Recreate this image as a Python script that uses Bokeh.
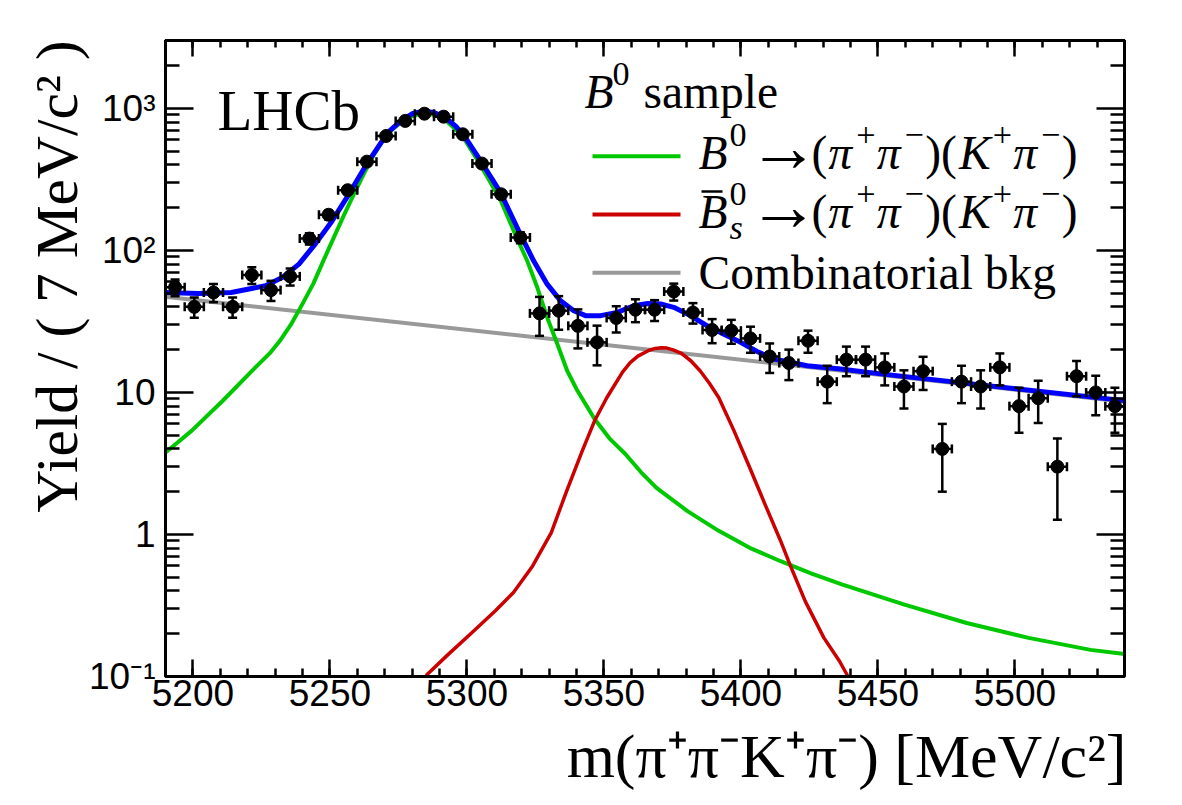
import numpy as np
from bokeh.plotting import figure
from bokeh.models import Range1d, FixedTicker, LinearAxis, LogAxis, Label, CustomJSTickFormatter
from bokeh.embed import file_html
from bokeh.resources import INLINE

# ---------------------------------------------------------------------------
# m(pi+ pi- K+ pi-) spectrum of the B0 sample, 7 MeV/c^2 bins over 5190-5540
# ---------------------------------------------------------------------------
bin_lo = 5190.0
bin_width = 7.0
n_bins = 50

yields = [55, 40, 50.5, 40, 67, 52.5, 65.5, 121, 178, 265,
          421, 638, 815, 916, 873, 656, 408, 248, 123, 36,
          37.6, 29.4, 22.5, 33.4, 38.2, 38.2, 51.3, 36.5, 27.5, 27.2,
          24, 17.9, 16.1, 23.1, 11.9, 17, 17, 15, 11, 14.1,
          4, 11.9, 11, 15, 8, 9.1, 3, 13, 10, 8]

yield_err = [7.4, 6.5, 7.4, 6.5, 9, 8.5, 9, 11, 13, 16,
             21, 25, 29, 30, 30, 26, 20, 16, 11, 11,
             10, 9, 7, 7, 7, 6.4, 7, 6, 5.3, 5.2,
             5, 4.2, 3.9, 4.1, 3.5, 4, 4, 3.8, 3.3, 3.7,
             2, 3.5, 3.3, 3.8, 2.8, 3, 1.73, 3.6, 3.1, 2.8]

# total fit
total_mass = [5190, 5202, 5214, 5226.5, 5232.6, 5238.7, 5244.7, 5250.8, 5256.9, 5263.0,
              5269.1, 5272, 5276, 5280, 5284, 5288, 5292, 5296, 5300, 5304.9,
              5312.3, 5318.9, 5324.4, 5329.3, 5334.2, 5339.0, 5343.3, 5348.8, 5354.9, 5360.9,
              5366, 5370.7, 5375.5, 5381.6, 5387.7, 5393.8, 5399.9, 5405.9, 5412.0, 5424.2,
              5436.4, 5451.0, 5540]
total_fit = [50.5, 49.7, 50.5, 56.3, 64.4, 80, 111, 161, 248, 393,
             589, 700, 820, 915, 955, 935, 865, 745, 600, 430,
             255, 137, 84, 57.8, 44.1, 37.6, 34.7, 34.7, 36.6, 40.7,
             42.2, 41.9, 39.7, 34.7, 29.4, 25.7, 22.5, 19.4, 17.2, 15.4,
             14.6, 13.5, 8.75]

# B0 -> (pi+ pi-)(K+ pi-) signal component
b0_mass = [5190, 5199.5, 5210.9, 5222.2, 5228, 5232, 5236, 5240, 5244, 5247.8,
           5251.4, 5255.1, 5258.8, 5262.4, 5266.0, 5269.7, 5273.3, 5277.2, 5280.5, 5284,
           5288, 5292, 5298.3, 5304.9, 5312.3, 5317.1, 5322.0, 5325.7, 5329.3, 5333.0,
           5336.6, 5340.3, 5346.6, 5352, 5357.9, 5363.5, 5369.2, 5380.5, 5391.9, 5403.2,
           5414.5, 5425.8, 5437.1, 5459.7, 5482.4, 5505.0, 5527.6, 5540]
b0_fit = [3.77, 5.36, 8.73, 14.6, 18.8, 23.4, 30.5, 42, 58.5, 86,
          123, 176, 250, 346, 470, 608, 725, 830, 890, 922,
          902, 833, 640, 400, 225, 137, 84.4, 54.7, 33.7, 21.9,
          14.2, 10.3, 6.49, 4.75, 3.67, 2.75, 2.13, 1.46, 1.06, 0.805,
          0.648, 0.53, 0.443, 0.321, 0.238, 0.187, 0.154, 0.144]

# anti-Bs0 -> (pi+ pi-)(K+ pi-) component
bs_mass = [5285.1, 5293, 5301.4, 5310.4, 5317, 5324.0, 5330.8, 5336.4, 5342.1, 5346.6,
           5351.1, 5356.8, 5359.6, 5362.4, 5366.5, 5368.7, 5371.0, 5373.0, 5375.0, 5378.3,
           5381.7, 5385.1, 5388.5, 5391.9, 5397.5, 5403.2, 5408.8, 5414.5, 5417.9, 5423.5,
           5430.3, 5436.0, 5438.9]
bs_fit = [0.1016, 0.142, 0.200, 0.290, 0.39, 0.60, 1.03, 2.02, 3.87, 6.31,
          9.2, 13.9, 16.2, 18.0, 19.8, 20.4, 20.6, 20.5, 20.0, 18.8,
          16.7, 14.2, 11.6, 9.2, 5.36, 2.96, 1.63, 0.90, 0.614, 0.338,
          0.187, 0.128, 0.1016]

# combinatorial background (exponential)
comb_mass = [5190, 5540]
comb_fit = [47.1, 8.6]

x_major = [5200, 5250, 5300, 5350, 5400, 5450, 5500]
y_major = [0.1, 1, 10, 100, 1000]
y_major_labels = ["10\u207b\u00b9", "1", "10", "10\u00b2", "10\u00b3"]

x_title = "m(\u03c0\u207a\u03c0\u207bK\u207a\u03c0\u207b) [MeV/c\u00b2]"
y_title = "Yield / ( 7 MeV/c\u00b2 )"

GREEN = "#00c800"
RED = "#cc0000"
BLUE = "#0000ff"
GREY = "#999999"

# ---------------------------------------------------------------------------
X_LO, X_HI = 5190.0, 5540.0
Y_LO, Y_HI = 0.1, 3000.0
W, H = 1182, 805
FRAME_L, FRAME_T, FRAME_R, FRAME_B = 165, 40, 1124, 676
FRAME_W = FRAME_R - FRAME_L
FRAME_H = FRAME_B - FRAME_T
SERIF = "Liberation Serif"
SANS = "Liberation Sans"
NBSP = "\u00a0"

p = figure(width=W, height=H, x_range=Range1d(X_LO, X_HI), y_range=Range1d(Y_LO, Y_HI),
           y_axis_type="log", x_axis_location=None, y_axis_location=None,
           output_backend="svg", toolbar_location=None,
           min_border_left=FRAME_L, min_border_right=W - FRAME_R,
           min_border_top=FRAME_T, min_border_bottom=H - FRAME_B)
p.grid.visible = False
p.background_fill_color = "white"
p.border_fill_color = "white"
p.outline_line_color = "black"
p.outline_line_width = 3

x_ticker = FixedTicker(ticks=x_major, minor_ticks=list(range(5190, 5541, 10)))
y_minor = [m * 10.0 ** e for e in range(-1, 4) for m in range(2, 10) if m * 10.0 ** e <= Y_HI]
y_ticker = FixedTicker(ticks=y_major, minor_ticks=y_minor)
blank = CustomJSTickFormatter(code="return '';")


def make_axis(cls, ticker, major_in, minor_in, show_labels=False):
    ax = cls(ticker=ticker)
    ax.axis_line_width = 3
    ax.axis_line_color = "black"
    ax.major_tick_in = major_in
    ax.major_tick_out = 0
    ax.minor_tick_in = minor_in
    ax.minor_tick_out = 0
    ax.major_tick_line_width = 2.5
    ax.minor_tick_line_width = 2.5
    ax.major_tick_line_color = "black"
    ax.minor_tick_line_color = "black"
    if show_labels:
        ax.major_label_text_font = SANS
        ax.major_label_text_font_size = "37px"
        ax.major_label_text_color = "black"
        ax.axis_label_text_font = SERIF
        ax.axis_label_text_font_style = "normal"
        ax.axis_label_text_color = "black"
    else:
        ax.formatter = blank
        ax.major_label_standoff = 0
    return ax


# axis titles sit toward the far end of each axis: leading no-break spaces push the
# centred title along the axis
bottom_axis = make_axis(LinearAxis, x_ticker, 17, 8, show_labels=True)
bottom_axis.major_label_standoff = 3
bottom_axis.axis_label = NBSP * 26 + x_title
bottom_axis.axis_label_text_font_size = "62px"
bottom_axis.axis_label_standoff = 13

left_axis = make_axis(LogAxis, y_ticker, 28, 14, show_labels=True)
left_axis.major_label_standoff = 10
left_axis.major_label_overrides = dict(zip(y_major, y_major_labels))
left_axis.axis_label = NBSP * 11 + y_title
left_axis.axis_label_text_font_size = "59.5px"
left_axis.axis_label_standoff = -4

p.add_layout(bottom_axis, "below")
p.add_layout(make_axis(LinearAxis, x_ticker, 16, 7), "above")
p.add_layout(left_axis, "left")
p.add_layout(make_axis(LogAxis, y_ticker, 28, 14), "right")

# ---------------------------------------------------------------------------
# fit curves
p.line(comb_mass, comb_fit, line_color=GREY, line_width=4)
p.line(b0_mass, b0_fit, line_color=GREEN, line_width=4, line_join="round")
p.line(bs_mass, bs_fit, line_color=RED, line_width=3.5, line_join="round")
p.line(total_mass, total_fit, line_color=BLUE, line_width=5, line_join="round")

# data points with error bars
centers = bin_lo + bin_width * (np.arange(n_bins) + 0.5)
y = np.array(yields, dtype=float)
e = np.array(yield_err, dtype=float)
lo, hi = y - e, y + e
half = bin_width / 2.0

p.segment(x0=centers, y0=lo, x1=centers, y1=hi, line_color="black", line_width=2.5)
p.segment(x0=centers - half, y0=y, x1=centers + half, y1=y, line_color="black", line_width=2.5)
p.scatter(centers, lo, marker="dash", size=9, line_color="black", line_width=2.5)
p.scatter(centers, hi, marker="dash", size=9, line_color="black", line_width=2.5)
p.scatter(np.concatenate([centers - half, centers + half]), np.concatenate([y, y]),
          marker="dash", angle=np.pi / 2, size=9, line_color="black", line_width=2.5)
p.scatter(centers, y, marker="circle", size=13, fill_color="black", line_color="black")

# ---------------------------------------------------------------------------
# in-frame text (pixel positions on the canvas, baseline given)
EM = {" ": .25, "(": .333, ")": .333, "[": .333, "]": .333, "/": .278, "+": .564,
      "\u2212": .564, "\u2192": .84, "M": .889, "V": .722, "Y": .722, "C": .667,
      "a": .444, "b": .5, "c": .444, "d": .5, "e": .444, "g": .5, "i": .278, "k": .5,
      "l": .278, "m": .778, "n": .5, "o": .5, "p": .5, "r": .333, "s": .389, "t": .278}
EM_IT = {"B": .611, "K": .667, "m": .722, "c": .444, "s": .389, "\u03c0": .55}
SUP = 0.72
RISE = 0.49
BASE_SHIFT = 0.38   # label anchor sits this fraction of the font size above the drawn baseline


def xd(px):
    return X_LO + (px - FRAME_L) / FRAME_W * (X_HI - X_LO)


def yd(py):
    return 10 ** (np.log10(Y_HI) - (py - FRAME_T) / FRAME_H * np.log10(Y_HI / Y_LO))


def put(text, px, py, size, font=SERIF, style="normal"):
    p.add_layout(Label(x=X_LO, y=Y_HI, x_offset=px - FRAME_L,
                       y_offset=FRAME_T - py + BASE_SHIFT * size, text=text,
                       text_font=font, text_font_style=style, text_font_size=f"{size:.1f}px",
                       text_align="left", text_baseline="alphabetic", text_color="black"))


def width(text, italic, size):
    table = EM_IT if italic else {}
    return sum(table.get(ch, EM.get(ch, 0.5)) for ch in text) * size


def rich(runs, px, py, size, span):
    # runs: (text, italic, level[, scale, drop]); level 1 = superscript, -1 = subscript stacked under
    pieces, cum = [], 0.0
    for run in runs:
        text, italic, level = run[:3]
        scale = run[3] if len(run) > 3 else 1.0
        drop = run[4] if len(run) > 4 else 0.0
        s = size * (SUP if level else scale)
        pieces.append((text, italic, level, s, cum, drop))
        if level != -1:
            cum += width(text, italic, s)
    last_text, last_it, _, last_s, last_off, _ = pieces[-1]
    k = (span - width(last_text, last_it, last_s)) / last_off
    for text, italic, level, s, off, drop in pieces:
        rise = RISE * size if level == 1 else (-0.21 * size if level == -1 else 0.0)
        put(text, px + off * k, py - rise + drop, s, style="italic" if italic else "normal")


# LHCb tag
put("LHCb", 217, 131.7, 57)

# legend
LEG = 47.5
put("B", 584, 109.5, LEG, style="italic")
put("0", 612, 109.5 - RISE * LEG, LEG * SUP)
put("sample", 643, 109.5, LEG)
decay = [("\u2192", 0, 0, 1.5, 3), ("(", 0, 0), ("\u03c0", 1, 0), ("+", 0, 1), ("\u03c0", 1, 0),
         ("\u2212", 0, 1), (")(", 0, 0), ("K", 1, 0), ("+", 0, 1), ("\u03c0", 1, 0),
         ("\u2212", 0, 1), (")", 0, 0)]
rich([("B", 1, 0), ("0", 0, 1)] + decay, 698, 170.7, LEG, span=379)
rich([("B", 1, 0), ("s", 1, -1), ("0", 0, 1)] + decay, 698, 230, LEG, span=379)
put("Combinatorial bkg", 698, 290.4, LEG)

for py, color in [(155.7, GREEN), (214.0, RED), (272.3, GREY)]:
    p.line([xd(592), xd(680)], [yd(py), yd(py)], line_color=color, line_width=4)
p.line([xd(701), xd(722)], [yd(191), yd(191)], line_color="black", line_width=2.5)

open("out.html", "w").write(file_html(p, INLINE))
